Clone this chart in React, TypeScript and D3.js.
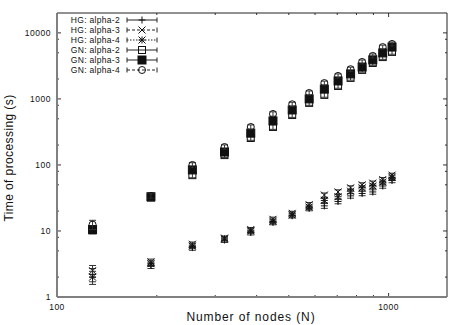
import * as d3 from 'd3';

// sizes N of the test graphs
const nodes = [128, 192, 256, 320, 384, 448, 512, 576, 640, 704, 768, 832, 896, 960, 1024];

// HG runs (s)
const hgAlpha2 = [2.2, 3.0, 5.6, 7.3, 9.5, 13.5, 17, 22, 24, 28, 34, 37, 39, 48, 58];
const hgAlpha3 = [2.5, 3.4, 6.3, 7.8, 10.5, 15, 18.5, 25, 35, 39, 45, 50, 53, 60, 70];
const hgAlpha4 = [2.0, 3.2, 5.9, 7.6, 10, 14, 17.5, 23, 29, 33, 40, 45, 48, 55, 65];
const hgErr2 = [0.5, 0.3, 0.5, 0.6, 0.8, 1.1, 1.3, 1.8, 2, 2.2, 2.6, 2.8, 3, 3.6, 4.2];
const hgErr3 = [0.5, 0.35, 0.5, 0.6, 0.8, 1.2, 1.4, 2, 2.6, 3, 3.3, 3.7, 4, 4.5, 5];
const hgErr4 = [0.45, 0.3, 0.5, 0.6, 0.8, 1.1, 1.3, 1.8, 2.2, 2.5, 3, 3.3, 3.6, 4, 4.8];

// GN runs (s)
const gnAlpha2 = [10.2, 32, 70, 141, 256, 376, 570, 870, 1150, 1570, 2080, 2750, 3500, 4300, 5150];
const gnAlpha3 = [10.5, 33, 84, 157, 303, 464, 680, 1000, 1410, 1870, 2390, 3040, 3900, 4970, 6100];
const gnAlpha4 = [12.5, 34, 100, 187, 376, 592, 830, 1230, 1740, 2230, 2820, 3630, 4480, 6100, 6800];
const gnErr2 = [1, 2.5, 6, 11, 20, 30, 45, 70, 90, 120, 160, 210, 270, 330, 400];
const gnErr3 = [1, 2.5, 6, 12, 22, 34, 50, 75, 100, 135, 170, 220, 280, 350, 430];
const gnErr4 = [2, 3, 8, 14, 28, 45, 60, 90, 120, 160, 200, 260, 320, 420, 480];

const xMajor = [100, 1000];
const xMinor = [200, 300, 400, 500, 600, 700, 800, 900];
const yMajor = [1, 10, 100, 1000, 10000];
const yMinor = [2, 5, 8, 20, 50, 80, 200, 500, 800, 2000, 5000, 8000];

type Marker = 'plus' | 'cross' | 'star' | 'square' | 'fsquare' | 'circle';

const series: { label: string; values: number[]; errs: number[]; marker: Marker; dash?: string }[] = [
  { label: 'HG: alpha-2', values: hgAlpha2, errs: hgErr2, marker: 'plus' },
  { label: 'HG: alpha-3', values: hgAlpha3, errs: hgErr3, marker: 'cross', dash: '3,2' },
  { label: 'HG: alpha-4', values: hgAlpha4, errs: hgErr4, marker: 'star', dash: '1.5,1.5' },
  { label: 'GN: alpha-2', values: gnAlpha2, errs: gnErr2, marker: 'square' },
  { label: 'GN: alpha-3', values: gnAlpha3, errs: gnErr3, marker: 'fsquare' },
  { label: 'GN: alpha-4', values: gnAlpha4, errs: gnErr4, marker: 'circle', dash: '3,2' },
];

const W = 463;
const H = 325;
const left = 57, right = 447, top = 13, bottom = 297;

const x = d3.scaleLog().domain([100, 1500]).range([left, right]);
const y = d3.scaleLog().domain([1, 20000]).range([bottom, top]);

const INK = '#111';
const FONT = 'Liberation Sans, Arial, sans-serif';

function MarkerShape({ kind, cx, cy }: { kind: Marker; cx: number; cy: number }) {
  const r = 3.5;
  switch (kind) {
    case 'plus':
      return <path d={`M${cx - r},${cy}H${cx + r}M${cx},${cy - r}V${cy + r}`} stroke={INK} fill="none" />;
    case 'cross':
      return <path d={`M${cx - r},${cy - r}L${cx + r},${cy + r}M${cx - r},${cy + r}L${cx + r},${cy - r}`} stroke={INK} fill="none" />;
    case 'star':
      return (
        <path
          d={`M${cx - r},${cy}H${cx + r}M${cx},${cy - r}V${cy + r}M${cx - r},${cy - r}L${cx + r},${cy + r}M${cx - r},${cy + r}L${cx + r},${cy - r}`}
          stroke={INK}
          fill="none"
        />
      );
    case 'square':
      return <rect x={cx - r} y={cy - r} width={2 * r} height={2 * r} stroke={INK} fill="none" />;
    case 'fsquare':
      return <rect x={cx - 4} y={cy - 4} width={8} height={8} stroke={INK} fill={INK} />;
    case 'circle':
      return <circle cx={cx} cy={cy} r={r} stroke={INK} fill="none" />;
  }
}

export default function App() {
  const cap = 3.5;
  return (
    <>
      <style>{`body{margin:0}`}</style>
      <svg width={W} height={H} style={{ display: 'block', background: '#fff' }} fontFamily={FONT}>
        {/* ticks, mirrored on all four sides */}
        <g stroke="#333" strokeWidth={1}>
          {xMajor.map((v) => (
            <g key={'xM' + v}>
              <line x1={x(v)} x2={x(v)} y1={bottom} y2={bottom - 4} />
              <line x1={x(v)} x2={x(v)} y1={top} y2={top + 4} />
            </g>
          ))}
          {xMinor.map((v) => (
            <g key={'xm' + v}>
              <line x1={x(v)} x2={x(v)} y1={bottom} y2={bottom - 2} />
              <line x1={x(v)} x2={x(v)} y1={top} y2={top + 2} />
            </g>
          ))}
          {yMajor.map((v) => (
            <g key={'yM' + v}>
              <line x1={left} x2={left + 4} y1={y(v)} y2={y(v)} />
              <line x1={right} x2={right - 4} y1={y(v)} y2={y(v)} />
            </g>
          ))}
          {yMinor.map((v) => (
            <g key={'ym' + v}>
              <line x1={left} x2={left + 2} y1={y(v)} y2={y(v)} />
              <line x1={right} x2={right - 2} y1={y(v)} y2={y(v)} />
            </g>
          ))}
        </g>

        {/* frame */}
        <line x1={left} x2={right} y1={top} y2={top} stroke="#222" />
        <line x1={right} x2={right} y1={top} y2={bottom} stroke="#222" />
        <line x1={left} x2={left} y1={top} y2={bottom} stroke="#808080" strokeWidth={2} />
        <line x1={left} x2={right} y1={bottom} y2={bottom} stroke="#808080" strokeWidth={2} />

        {/* tick labels */}
        <g fontSize={8.5} fill={INK} letterSpacing={0.5}>
          {yMajor.map((v) => (
            <text key={'yl' + v} x={51} y={y(v)} textAnchor="end" dominantBaseline="central">
              {v}
            </text>
          ))}
          {xMajor.map((v) => (
            <text key={'xl' + v} x={x(v)} y={307} textAnchor="middle" dominantBaseline="central">
              {v}
            </text>
          ))}
        </g>

        {/* axis titles */}
        <text x={251} y={321} textAnchor="middle" fontSize={12} letterSpacing={0.9} fill={INK}>
          Number of nodes (N)
        </text>
        <text
          transform={`translate(13,158) rotate(-90)`}
          textAnchor="middle"
          fontSize={12}
          letterSpacing={0.4}
          fill={INK}
        >
          Time of processing (s)
        </text>

        {/* data with error bars */}
        {series.map((s) => (
          <g key={s.label}>
            {s.values.map((v, i) => {
              const cx = x(nodes[i]);
              const lo = y(v - s.errs[i]);
              const hi = y(v + s.errs[i]);
              return (
                <g key={i}>
                  <path
                    d={`M${cx},${lo}V${hi}M${cx - cap},${lo}H${cx + cap}M${cx - cap},${hi}H${cx + cap}`}
                    stroke="#333"
                    fill="none"
                  />
                  <MarkerShape kind={s.marker} cx={cx} cy={y(v)} />
                </g>
              );
            })}
          </g>
        ))}

        {/* key */}
        <g fontSize={8.5} fill={INK} letterSpacing={0.3}>
          {series.map((s, i) => {
            const ly = 20 + i * 10;
            return (
              <g key={'k' + s.label}>
                <text x={120} y={ly} textAnchor="end" dominantBaseline="central">
                  {s.label}
                </text>
                <line x1={127} x2={157} y1={ly} y2={ly} stroke="#222" strokeDasharray={s.dash} />
                <line x1={127} x2={127} y1={ly - 2.5} y2={ly + 2.5} stroke="#222" />
                <line x1={157} x2={157} y1={ly - 2.5} y2={ly + 2.5} stroke="#222" />
                <MarkerShape kind={s.marker} cx={142} cy={ly} />
              </g>
            );
          })}
        </g>
      </svg>
    </>
  );
}
